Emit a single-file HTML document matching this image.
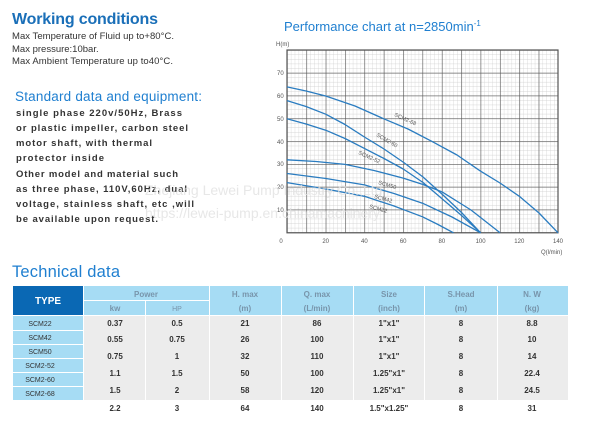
<!DOCTYPE html>
<html><head><meta charset="utf-8"><style>
html,body{margin:0;padding:0;background:#fff;width:600px;height:439px;overflow:hidden}
svg{display:block}
.b{font-family:"Liberation Sans",sans-serif}
</style></head><body>
<svg width="600" height="439" viewBox="0 0 600 439" xmlns="http://www.w3.org/2000/svg" class="b">
<defs>
<pattern id="mn" x="287" y="50" width="3.872" height="4.56" patternUnits="userSpaceOnUse">
<path d="M0 0H3.872M0 0V4.56" stroke="#c8c8c8" stroke-width="0.6" fill="none"/>
</pattern>
<pattern id="mj" x="287" y="50" width="19.36" height="22.8" patternUnits="userSpaceOnUse">
<path d="M0 0H19.36M0 0V22.8" stroke="#555" stroke-width="1.2" fill="none"/>
</pattern>
</defs>
<text x="12" y="24" font-size="16" font-weight="bold" fill="#1a6fb8" textLength="146">Working conditions</text>
<g font-size="9.5" fill="#333">
<text x="12" y="39" textLength="162">Max Temperature of Fluid up to+80°C.</text>
<text x="12" y="52">Max pressure:10bar.</text>
<text x="12" y="64" textLength="161">Max Ambient Temperature up to40°C.</text>
</g>
<text x="15" y="101" font-size="13.5" fill="#1f7fd0" textLength="187">Standard data and equipment:</text>
<g font-size="9.5" font-weight="bold" fill="#333">
<text x="16" y="116" textLength="166">single phase 220v/50Hz, Brass</text>
<text x="16" y="131" textLength="172">or plastic impeller, carbon steel</text>
<text x="16" y="146" textLength="136">motor shaft, with thermal</text>
<text x="16" y="161" textLength="88">protector inside</text>
<text x="16" y="177" textLength="162">Other model and material such</text>
<text x="16" y="192" textLength="171">as three phase, 110V,60Hz, dual</text>
<text x="16" y="207" textLength="178">voltage, stainless shaft, etc ,will</text>
<text x="16" y="222" textLength="142">be available upon request.</text>
</g>
<text x="284" y="31" font-size="13" fill="#1f7fd0">Performance chart at n=2850min<tspan dy="-5" font-size="8">-1</tspan></text>
<rect x="287" y="50" width="271" height="182.8" fill="url(#mn)"/>
<rect x="287" y="50" width="271" height="182.8" fill="url(#mj)"/>
<rect x="287" y="50" width="271" height="182.8" fill="none" stroke="#555" stroke-width="1.2"/>
<g font-size="6" fill="#555">
<text x="276" y="46">H(m)</text>
<text x="277" y="75">70</text><text x="277" y="98">60</text><text x="277" y="121">50</text>
<text x="277" y="144">40</text><text x="277" y="166">30</text><text x="277" y="189">20</text><text x="277" y="212">10</text>
<g text-anchor="middle">
<text x="281" y="243">0</text><text x="325.7" y="243">20</text><text x="364.4" y="243">40</text>
<text x="403.2" y="243">60</text><text x="441.9" y="243">80</text><text x="480.6" y="243">100</text>
<text x="519.3" y="243">120</text><text x="558" y="243">140</text>
</g>
<text x="541" y="254">Q(l/min)</text>
</g>
<g fill="none" stroke="#2a7cc0" stroke-width="1.3" stroke-linejoin="round">
<polyline points="287,86.9 306,91 325.7,96 355,106 383.8,118.8 408,129 432.2,141.6 457,155 480.6,171.2 500,183 519.3,196.3 539,213 558,232.8"/>
<polyline points="287,100.6 306,106.5 325.7,114.2 345,124.5 364.4,137 384,149 403.2,162.1 423,177 441.9,194 461,212 480.6,232.8"/>
<polyline points="287,118.8 306,124 325.7,130.2 345,138.5 364.4,148.4 384,158.5 403.2,169 423,182.5 441.9,198.6 461,215 480.6,232.8"/>
<polyline points="287,159.8 316,161.5 345.1,164.4 374,170.5 403.2,178.1 423,184.5 441.9,191.8 471,210 500,232.8"/>
<polyline points="287,173.5 326,178.5 364.4,184.9 394,193.5 422.5,203.2 452,217 480.6,232.8"/>
<polyline points="287,182.6 326,189 364.4,196.3 394,206 422.5,216.8 438,224.5 453.5,232.8"/>
</g>
<g font-size="5.5" fill="#555">
<text transform="translate(394,116) rotate(24)">SCM2-68</text>
<text transform="translate(376,136) rotate(30)">SCM2-60</text>
<text transform="translate(358,154) rotate(24)">SCM2-52</text>
<text transform="translate(378,184) rotate(16)">SCM50</text>
<text transform="translate(374,198) rotate(15)">SCM42</text>
<text transform="translate(369,208) rotate(15)">SCM22</text>
</g>
<g font-size="14" fill="#e2e2e2" opacity="0.8">
<text x="145" y="195">Zhejiang Lewei Pump Industry Co.,Ltd</text>
<text x="145" y="218">https://lewei-pump.en.chinamachinery</text>
</g>
<text x="12" y="277" font-size="16.5" fill="#1f7fd0" textLength="108">Technical data</text>
<rect x="84" y="286" width="484" height="29" fill="#a6dcf4"/>
<rect x="13" y="286" width="70" height="29" fill="#0a68b4"/>
<rect x="13" y="316" width="70" height="84" fill="#a6dcf4"/>
<rect x="84" y="316" width="484" height="84" fill="#ececec"/>
<g stroke="#fff" stroke-width="1">
<line x1="84" y1="300.5" x2="209" y2="300.5"/>
<line x1="145.5" y1="300" x2="145.5" y2="400"/>
<line x1="209.5" y1="286" x2="209.5" y2="400"/>
<line x1="281.5" y1="286" x2="281.5" y2="400"/>
<line x1="353.5" y1="286" x2="353.5" y2="400"/>
<line x1="424.5" y1="286" x2="424.5" y2="400"/>
<line x1="497.5" y1="286" x2="497.5" y2="400"/>
<line x1="13" y1="330.5" x2="83" y2="330.5"/><line x1="13" y1="344.5" x2="83" y2="344.5"/>
<line x1="13" y1="358.5" x2="83" y2="358.5"/><line x1="13" y1="372.5" x2="83" y2="372.5"/>
<line x1="13" y1="386.5" x2="83" y2="386.5"/>
</g>
<text x="48" y="304" font-size="10" font-weight="bold" fill="#fff" text-anchor="middle">TYPE</text>
<g font-size="8" font-weight="bold" fill="#7895ab" text-anchor="middle">
<text x="146" y="297">Power</text>
<text x="115" y="311">kw</text><text x="177" y="311" font-weight="normal" font-size="7">HP</text>
<text x="245" y="297">H. max</text><text x="245" y="311">(m)</text>
<text x="317" y="297">Q. max</text><text x="317" y="311">(L/min)</text>
<text x="389" y="297">Size</text><text x="389" y="311">(inch)</text>
<text x="461" y="297">S.Head</text><text x="461" y="311">(m)</text>
<text x="532" y="297">N. W</text><text x="532" y="311">(kg)</text>
</g>
<g font-size="7" fill="#333" text-anchor="middle">
<text x="40" y="326">SCM22</text><text x="40" y="340">SCM42</text><text x="40" y="354">SCM50</text>
<text x="40" y="368">SCM2-52</text><text x="40" y="382">SCM2-60</text><text x="40" y="396">SCM2-68</text>
</g>
<g font-size="8" font-weight="bold" fill="#333" text-anchor="middle">
<g transform="translate(0,326)"><text x="115">0.37</text><text x="177">0.5</text><text x="245">21</text><text x="317">86</text><text x="389">1"x1"</text><text x="461">8</text><text x="532">8.8</text></g>
<g transform="translate(0,342)"><text x="115">0.55</text><text x="177">0.75</text><text x="245">26</text><text x="317">100</text><text x="389">1"x1"</text><text x="461">8</text><text x="532">10</text></g>
<g transform="translate(0,359)"><text x="115">0.75</text><text x="177">1</text><text x="245">32</text><text x="317">110</text><text x="389">1"x1"</text><text x="461">8</text><text x="532">14</text></g>
<g transform="translate(0,376)"><text x="115">1.1</text><text x="177">1.5</text><text x="245">50</text><text x="317">100</text><text x="389">1.25"x1"</text><text x="461">8</text><text x="532">22.4</text></g>
<g transform="translate(0,393)"><text x="115">1.5</text><text x="177">2</text><text x="245">58</text><text x="317">120</text><text x="389">1.25"x1"</text><text x="461">8</text><text x="532">24.5</text></g>
<g transform="translate(0,411)"><text x="115">2.2</text><text x="177">3</text><text x="245">64</text><text x="317">140</text><text x="389">1.5"x1.25"</text><text x="461">8</text><text x="532">31</text></g>
</g>
</svg>
</body></html>
